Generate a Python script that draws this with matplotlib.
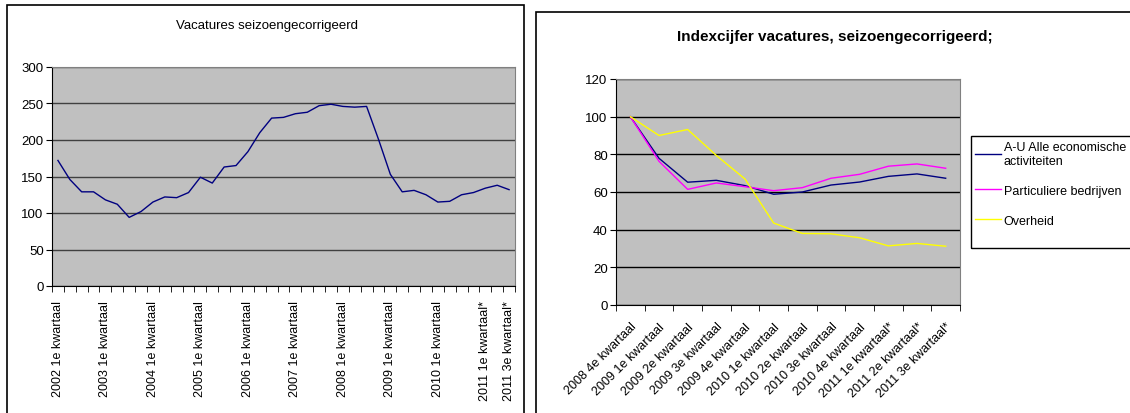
import matplotlib.pyplot as plt
from matplotlib.patches import Rectangle

plt.rcParams['font.family'] = ['Liberation Sans', 'DejaVu Sans']

# Left chart: vacatures seizoengecorrigeerd, 2002 Q1 .. 2011 Q3
quarters = []
for year in range(2002, 2012):
    for q in range(1, 5):
        if year == 2011 and q > 3:
            break
        quarters.append((year, q))
vacatures = [172, 146, 129, 129, 118, 112, 94, 102, 115, 122,
             121, 128, 149, 141, 163, 165, 184, 210, 230, 231,
             236, 238, 247, 249, 246, 245, 246, 201, 153, 129,
             131, 125, 115, 116, 125, 128, 134, 138, 132]
left_labels = {0: "2002 1e kwartaal", 4: "2003 1e kwartaal", 8: "2004 1e kwartaal",
               12: "2005 1e kwartaal", 16: "2006 1e kwartaal", 20: "2007 1e kwartaal",
               24: "2008 1e kwartaal", 28: "2009 1e kwartaal", 32: "2010 1e kwartaal",
               36: "2011 1e kwartaal*", 38: "2011 3e kwartaal*"}

# Right chart: index 2008 Q4 = 100
periods = ["2008 4e kwartaal", "2009 1e kwartaal", "2009 2e kwartaal", "2009 3e kwartaal",
           "2009 4e kwartaal", "2010 1e kwartaal", "2010 2e kwartaal", "2010 3e kwartaal",
           "2010 4e kwartaal", "2011 1e kwartaal*", "2011 2e kwartaal*", "2011 3e kwartaal*"]
alle = [100, 77.9, 65.2, 66.2, 63.4, 58.8, 60.0, 63.7, 65.3, 68.3, 69.6, 67.3]
particulier = [100, 76.3, 61.4, 64.8, 62.8, 60.7, 62.3, 67.3, 69.4, 73.7, 74.9, 72.6]
overheid = [100, 90.0, 93.2, 79.4, 66.9, 43.5, 38.0, 37.8, 35.7, 31.4, 32.7, 31.2]

W, H = 1130, 414
fig = plt.figure(figsize=(W / 100, H / 100), dpi=100)

# chart borders
fig.patches.append(Rectangle((7 / W, -0.05), 517 / W, 1.05 - 5.7 / H, transform=fig.transFigure,
                             fill=False, edgecolor='black', linewidth=1.2))
fig.patches.append(Rectangle((536 / W, -0.05), 0.6, 1.05 - 13.3 / H, transform=fig.transFigure,
                             fill=False, edgecolor='black', linewidth=1.2))


def style_axes(ax, gridcolor):
    ax.set_facecolor('#C0C0C0')
    for side in ['top', 'right']:
        ax.spines[side].set_color('#808080')
    for side in ['left', 'bottom']:
        ax.spines[side].set_color('black')
    ax.yaxis.grid(True, color=gridcolor, linewidth=1)
    ax.set_axisbelow(True)
    ax.tick_params(axis='y', direction='out', length=4, labelsize=9.5, pad=2)


# ---- left ----
ax1 = fig.add_axes([52 / W, 1 - 287 / H, 463 / W, 219 / H])
style_axes(ax1, '#404040')
x1 = list(range(len(quarters)))
ax1.plot(x1, vacatures, color='#000080', linewidth=1)
ax1.set_xlim(-0.5, len(quarters) - 0.5)
ax1.set_ylim(0, 300)
ax1.set_yticks(range(0, 301, 50))
ax1.set_xticks(list(left_labels.keys()))
ax1.set_xticklabels(list(left_labels.values()), rotation=90, fontsize=9)
ax1.set_xticks([i - 0.5 for i in range(len(quarters) + 1)], minor=True)
ax1.tick_params(axis='x', which='major', length=0, pad=10)
ax1.tick_params(axis='x', which='minor', direction='out', length=4)
fig.text(267 / W, 1 - 25.7 / H, "Vacatures seizoengecorrigeerd", ha='center', va='center',
         fontsize=9.5)

# ---- right ----
ax2 = fig.add_axes([616 / W, 1 - 306 / H, 344 / W, 226 / H])
style_axes(ax2, 'black')
x2 = list(range(len(periods)))
ax2.plot(x2, alle, color='#000080', linewidth=1, label="A-U Alle economische\nactiviteiten")
ax2.plot(x2, particulier, color='#FF00FF', linewidth=1, label="Particuliere bedrijven")
ax2.plot(x2, overheid, color='#FFFF00', linewidth=1, label="Overheid")
ax2.set_xlim(-0.5, len(periods) - 0.5)
ax2.set_ylim(0, 120)
ax2.set_yticks(range(0, 121, 20))
ax2.set_xticks(x2)
ax2.set_xticklabels(periods, rotation=45, ha='right', va='top', rotation_mode='anchor',
                    fontsize=9)
ax2.set_xticks([i - 0.5 for i in range(len(periods) + 1)], minor=True)
ax2.tick_params(axis='x', which='major', length=0, pad=11)
ax2.tick_params(axis='x', which='minor', direction='out', length=4)
fig.text(835 / W, 1 - 36.7 / H, "Indexcijfer vacatures, seizoengecorrigeerd;", ha='center',
         va='center', fontsize=11, fontweight='bold')

# legend with its own frame (taller than the entries, as in the original)
fig.patches.append(Rectangle((971 / W, 1 - 248.5 / H), 0.2, 111.8 / H, transform=fig.transFigure,
                             fill=False, edgecolor='black', linewidth=1))
ax2.legend(loc='upper left', bbox_to_anchor=(971 / W, 1 - 138 / H),
           bbox_transform=fig.transFigure, fontsize=9, frameon=False,
           borderaxespad=0, handlelength=2.1, handletextpad=0.2,
           labelspacing=1.45, borderpad=0.3)

fig.savefig("out.png", dpi=100)
